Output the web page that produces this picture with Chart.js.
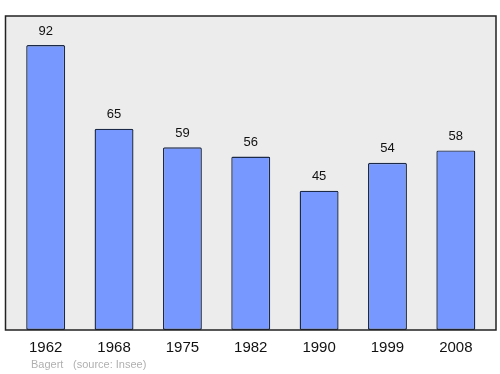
<!DOCTYPE html>
<html><head><meta charset="utf-8">
<script src="https://cdn.jsdelivr.net/npm/chart.js@4/dist/chart.umd.min.js"></script>
<style>html,body{margin:0;padding:0;background:#fff}#wrap{width:500px;height:374px}</style>
</head><body><div id="wrap"><canvas id="c" width="500" height="374"></canvas></div>
<script>
const years = ["1962","1968","1975","1982","1990","1999","2008"];
const population = [92,65,59,56,45,54,58];
const author = "Bagert";
const source = "(source: Insee)";

const frame = {
  id: 'frame',
  beforeDatasetsDraw(chart){
    const {ctx, chartArea:a} = chart;
    ctx.save();
    ctx.fillStyle = '#ececec';
    ctx.fillRect(a.left-6, a.top, a.right-a.left+12, a.bottom-a.top);
    ctx.restore();
  },
  afterDatasetsDraw(chart){
    const {ctx, chartArea:a, scales} = chart;
    ctx.save();
    ctx.strokeStyle = '#222';
    ctx.lineWidth = 1.5;
    ctx.strokeRect(a.left-6, a.top, a.right-a.left+12, a.bottom-a.top);
    const meta = chart.getDatasetMeta(0);
    ctx.fillStyle = '#111';
    ctx.textAlign = 'center';
    ctx.textBaseline = 'middle';
    ctx.font = '13px "Liberation Sans", Arial, sans-serif';
    meta.data.forEach((bar,i)=>{
      ctx.fillText(String(population[i]), bar.x, bar.y-14);
    });
    ctx.font = '15px "Liberation Sans", Arial, sans-serif';
    years.forEach((y,i)=>{
      ctx.fillText(y, scales.x.getPixelForValue(i), a.bottom+17.5);
    });
    ctx.fillStyle = '#b0b0b0';
    ctx.font = '11px "Liberation Sans", Arial, sans-serif';
    ctx.textAlign = 'left';
    ctx.fillText(author, 31, 365);
    ctx.fillText(source, 73, 365);
    ctx.restore();
  }
};

new Chart(document.getElementById('c'), {
  type: 'bar',
  data: { labels: years, datasets: [{
    data: population,
    backgroundColor: '#7799ff',
    borderColor: '#1c2a48',
    borderWidth: 1.4,
    borderRadius: 1.5,
    borderSkipped: false,
    barPercentage: 0.57,
    categoryPercentage: 1.0
  }]},
  options: {
    responsive: false,
    animation: false,
    devicePixelRatio: 1,
    layout: { padding: { left: 11.5, right: 10, top: 16, bottom: 44 } },
    plugins: { legend: {display:false}, tooltip: {enabled:false} },
    scales: {
      x: { display: false },
      y: { display: false, min: 0, max: 101.4 }
    }
  },
  plugins: [frame]
});
</script></body></html>
